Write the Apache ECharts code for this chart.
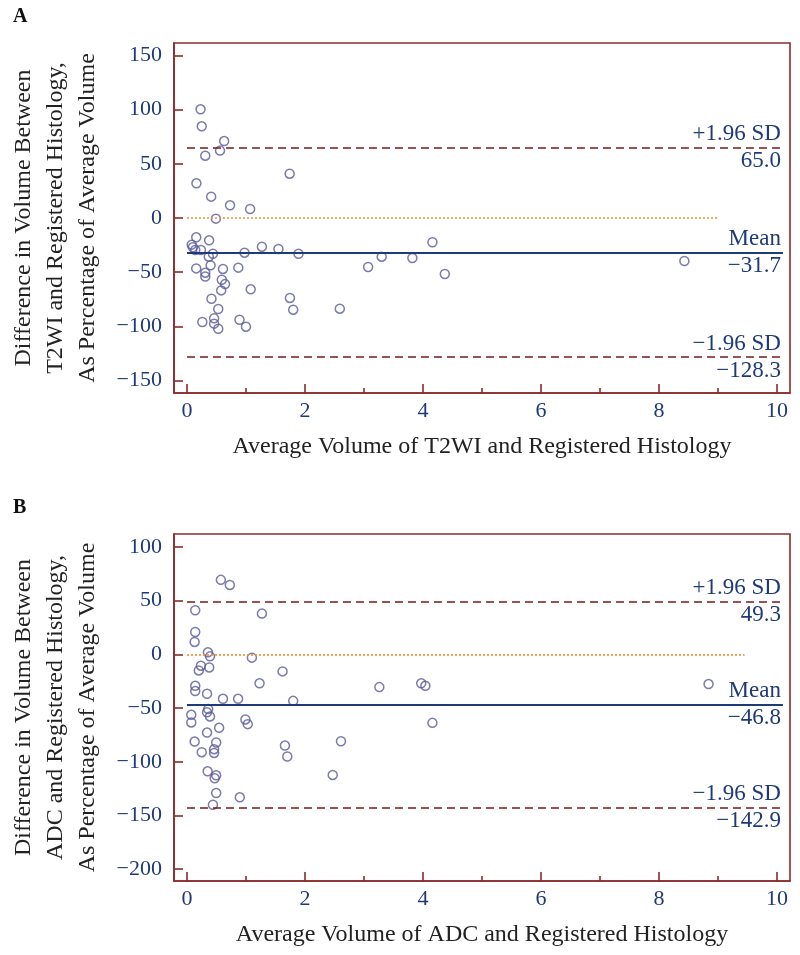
<!DOCTYPE html>
<html><head><meta charset="utf-8">
<script src="https://cdn.jsdelivr.net/npm/echarts@6/dist/echarts.min.js"></script>
<style>html,body{margin:0;padding:0;background:#fff}#c{width:800px;height:955px}</style>
</head><body><div id="c"></div>
<script>
// Panel A: T2WI vs registered histology
const avgA = [0.23,0.25,0.63,0.56,0.31,1.74,0.16,0.41,0.73,1.07,0.49,
  0.157,0.375,0.08,0.10,0.14,0.236,0.37,0.44,0.976,1.27,1.55,1.89,0.157,0.40,0.61,0.87,0.31,0.31,0.59,0.645,0.58,1.08,0.415,1.745,0.53,1.80,2.59,0.26,0.46,0.46,0.53,0.89,1.0,3.07,
  3.30,3.82,4.16,4.37,8.43];
const diffA = [100.3,84.6,71,62.2,57.5,40.9,32,19.7,11.7,8.3,-0.6,
  -17.8,-20.6,-24.6,-27,-29.5,-29.5,-35.7,-33,-32,-26.5,-28.6,-33,-46.5,-43.7,-47,-45.8,-50.5,-54,-57,-61,-66.8,-65.8,-74.5,-73.8,-84,-84.6,-83.7,-96,-92.6,-97.5,-102.2,-93.9,-100.3,-45.2,
  -35.7,-36.9,-22.4,-51.7,-39.7];
const statsA = {mean:-31.7, upper:65.0, lower:-128.3};
const zeroEndA = 9.0;

// Panel B: ADC vs registered histology
const avgB = [0.574,0.726,0.14,1.27,0.14,0.13,0.355,0.39,1.10,0.236,0.20,0.377,1.62,1.23,0.14,0.14,0.34,0.61,0.867,1.80,
  0.073,0.073,0.34,0.36,0.39,0.545,0.99,1.03,0.34,0.13,0.495,0.25,0.46,0.46,1.66,1.70,2.61,0.35,0.495,0.47,2.47,0.495,0.895,0.44,
  3.26,3.97,4.04,4.16,8.84];
const diffB = [69.3,64.6,41,37.9,20.8,11.5,1.9,-1.9,-3.1,-10.6,-15,-12.2,-15.9,-27,-29.3,-34.2,-36.7,-41.4,-41.4,-43.3,
  -56.3,-63.4,-54,-51,-57.8,-68.4,-60.6,-65,-72.8,-81.2,-82.1,-91.1,-88.3,-91.8,-84.9,-95.1,-80.9,-108.9,-112.6,-115.4,-112.3,-129.1,-133.1,-140,
  -30.5,-27,-29.3,-63.8,-27.7];
const statsB = {mean:-46.8, upper:49.3, lower:-142.9};
const zeroEndB = 9.45;

const lineStart = 0;
const lineEnd = 10.1;
const xTicks = [0,2,4,6,8,10];
const xMinorTicks = [1,3,5,7,9];
const yTicksA = [-150,-100,-50,0,50,100,150];
const yTicksB = [-200,-150,-100,-50,0,50,100];

const titleXA = 'Average Volume of T2WI and Registered Histology';
const titleXB = 'Average Volume of ADC and Registered Histology';
const titleYA = ['Difference in Volume Between','T2WI and Registered Histology,','As Percentage of Average Volume'];
const titleYB = ['Difference in Volume Between','ADC and Registered Histology,','As Percentage of Average Volume'];

const FONT = '"Liberation Serif", "DejaVu Serif", serif';
const FRAME = '#8a2b2b';
const NAVY = '#1e3a78';
const PT = '#5a5a98';
const fmt = v => (v < 0 ? '\u2212' + Math.abs(v) : String(v));
const fmt1 = v => (v < 0 ? '\u2212' + Math.abs(v).toFixed(1) : v.toFixed(1));

function pair(y, top, bottom, style) {
  return [
    [{coord:[lineStart,y], lineStyle:style, label:{show:true, position:'insideEndTop', formatter:top}}, {coord:[lineEnd,y]}],
    [{coord:[lineStart,y], lineStyle:{color:'rgba(255,255,255,0)', width:0.1, type:'solid'}, label:{show:true, position:'insideEndBottom', formatter:bottom}}, {coord:[lineEnd,y]}]
  ];
}

function panel(i, xs, ys, st, zeroEnd, yTicks, yMin, yMax, xName, yName) {
  const sd = {color:'#781a1a', width:1.6, type:[8,5]};
  const mn = {color:NAVY, width:2, type:'solid'};
  const lines = [].concat(
    [[{coord:[lineStart,0], lineStyle:{color:'#ec8f2e', width:1.6, type:[2,2]}, label:{show:false}}, {coord:[zeroEnd,0]}]],
    pair(st.upper, '+1.96 SD', fmt1(st.upper), sd),
    pair(st.mean, 'Mean', fmt1(st.mean), mn),
    pair(st.lower, '\u22121.96 SD', fmt1(st.lower), sd)
  );
  return {
    xAxes: [
      {gridIndex:i, type:'value', min:-0.22, max:10.22, position:'bottom',
       axisLine:{show:true, onZero:false, lineStyle:{color:FRAME, width:1.6}},
       axisTick:{show:true, inside:true, length:9, customValues:xTicks, lineStyle:{color:FRAME, width:1.6}},
       axisLabel:{show:true, customValues:xTicks, color:NAVY, fontFamily:FONT, fontSize:22, margin:7},
       splitLine:{show:false},
       name:xName, nameLocation:'middle', nameGap:42,
       nameTextStyle:{color:'#222', fontFamily:FONT, fontSize:24}},
      {gridIndex:i, type:'value', min:-0.22, max:10.22, position:'bottom',
       axisLine:{show:false, onZero:false},
       axisTick:{show:true, inside:true, length:5, customValues:xMinorTicks, lineStyle:{color:FRAME, width:1.6}},
       axisLabel:{show:false}, splitLine:{show:false}}
    ],
    yAxis: {gridIndex:i, type:'value', min:yMin, max:yMax,
      axisLine:{show:true, onZero:false, lineStyle:{color:FRAME, width:1.6}},
      axisTick:{show:true, inside:true, length:9, customValues:yTicks, lineStyle:{color:FRAME, width:1.6}},
      axisLabel:{show:true, customValues:yTicks, formatter:fmt, color:NAVY, fontFamily:FONT, fontSize:22, margin:12},
      splitLine:{show:false},
      name:yName.join('\n'), nameLocation:'middle', nameRotate:90, nameGap:70,
      nameTextStyle:{color:'#222', fontFamily:FONT, fontSize:24, lineHeight:32, align:'center'}},
    series: {type:'scatter', xAxisIndex:i*2, yAxisIndex:i,
      data: xs.map((x,k)=>[x, ys[k]]),
      symbol:'circle', symbolSize:9,
      itemStyle:{color:'rgba(0,0,0,0)', borderColor:PT, borderWidth:1.5},
      markLine:{silent:true, symbol:'none', animation:false,
        label:{color:NAVY, fontFamily:FONT, fontSize:23, distance:2},
        data: lines}
    }
  };
}

const pA = panel(0, avgA, diffA, statsA, zeroEndA, yTicksA, -161.5, 161.5, titleXA, titleYA);
const pB = panel(1, avgB, diffB, statsB, zeroEndB, yTicksB, -211, 112, titleXB, titleYB);

const chart = echarts.init(document.getElementById('c'), null, {renderer:'canvas'});
chart.setOption({
  animation:false,
  backgroundColor:'#fff',
  grid:[
    {left:171, right:10, top:43, height:350, show:true, borderColor:FRAME, borderWidth:1.6, containLabel:false},
    {left:173, right:10, top:534, height:347, show:true, borderColor:FRAME, borderWidth:1.6, containLabel:false}
  ],
  xAxis: pA.xAxes.concat(pB.xAxes.map(a=>Object.assign({}, a, {gridIndex:1}))),
  yAxis: [pA.yAxis, pB.yAxis],
  series: [pA.series, Object.assign({}, pB.series, {xAxisIndex:2, yAxisIndex:1})],
  graphic:[
    {type:'text', left:13, top:7, style:{text:'A', font:'bold 20px ' + FONT, fill:'#111'}},
    {type:'text', left:13, top:498, style:{text:'B', font:'bold 20px ' + FONT, fill:'#111'}}
  ]
});
</script></body></html>
